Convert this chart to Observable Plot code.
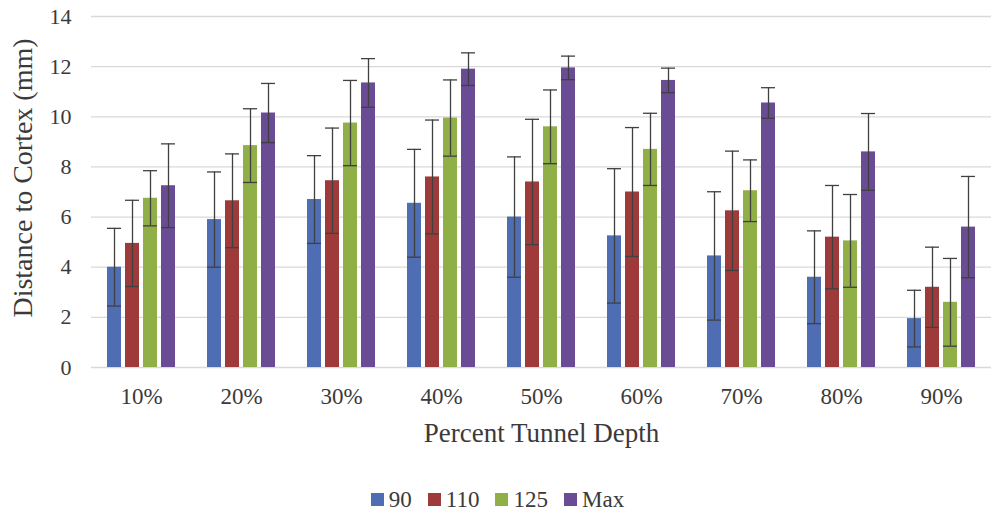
<!DOCTYPE html>
<html><head><meta charset="utf-8">
<script src="https://cdn.jsdelivr.net/npm/d3@7"></script>
<script src="https://cdn.jsdelivr.net/npm/@observablehq/plot@0.6"></script>
<style>
body{margin:0;background:#fff;font-family:"Liberation Serif","Times New Roman",serif;}
#chart{width:995px;height:475px;}
#legend{width:995px;height:39px;box-sizing:border-box;padding-top:10px;display:flex;align-items:center;justify-content:center;font-size:23px;color:#3a3a3a;}
.item{display:flex;align-items:center;margin:0 8px;}
.sw{width:13px;height:13px;margin-right:5px;display:inline-block;}
</style></head><body>
<div id="chart"></div>
<div id="legend"></div>
<script>
const categories = ["10%","20%","30%","40%","50%","60%","70%","80%","90%"];
const series = ["90","110","125","Max"];
const colors = ["#4E6DB3","#9E3B3A","#90AF47","#6A4C95"];
const mean90  = [4.0, 5.9, 6.7, 6.55, 6.0, 5.25, 4.45, 3.6, 1.95];
const mean110 = [4.95, 6.65, 7.45, 7.6, 7.4, 7.0, 6.25, 5.2, 3.2];
const mean125 = [6.75, 8.85, 9.75, 9.95, 9.6, 8.7, 7.05, 5.05, 2.6];
const meanMax = [7.25, 10.15, 11.35, 11.9, 11.95, 11.45, 10.55, 8.6, 5.6];
const err90  = [1.55, 1.9, 1.75, 2.15, 2.4, 2.68, 2.56, 1.85, 1.13];
const err110 = [1.72, 1.87, 2.1, 2.27, 2.5, 2.57, 2.38, 2.06, 1.6];
const err125 = [1.1, 1.47, 1.7, 1.52, 1.47, 1.44, 1.23, 1.85, 1.75];
const errMax = [1.67, 1.18, 0.97, 0.65, 0.47, 0.49, 0.61, 1.53, 2.02];
const yTicks = [0, 2, 4, 6, 8, 10, 12, 14];
const xTitle = "Percent Tunnel Depth";
const yTitle = "Distance to Cortex (mm)";

const meansBy = {"90": mean90, "110": mean110, "125": mean125, "Max": meanMax};
const errsBy = {"90": err90, "110": err110, "125": err125, "Max": errMax};
const rows = [];
categories.forEach((c, i) => {
  series.forEach(s => {
    const v = meansBy[s][i], e = errsBy[s][i];
    rows.push({cat: c, series: s, value: v, lo: v - e, hi: v + e});
  });
});

const ebar = {stroke: "#404040", strokeWidth: 1.3};
const plot = Plot.plot({
  width: 995, height: 475,
  marginTop: 16, marginBottom: 108, marginLeft: 90, marginRight: 3,
  style: {fontFamily: "'Liberation Serif','Times New Roman',serif", background: "#fff", color: "#3a3a3a", fontSize: "22px"},
  fx: {domain: categories, padding: 0, label: null},
  x: {domain: series, paddingInner: 0.24, paddingOuter: 0.84, axis: null},
  y: {domain: [0, 14], label: null},
  color: {domain: series, range: colors},
  marks: [
    Plot.gridY(yTicks, {stroke: "#d9d9d9", strokeOpacity: 1, strokeWidth: 1.3}),
    Plot.axisY(yTicks, {tickSize: 0, tickPadding: 20, fontSize: 22, label: null}),
    Plot.axisFx({anchor: "bottom", tickSize: 0, tickPadding: 20, fontSize: 23, label: null}),
    Plot.barY(rows, {fx: "cat", x: "series", y: "value", fill: "series"}),
    Plot.ruleX(rows, {fx: "cat", x: "series", y1: "lo", y2: "hi", ...ebar}),
    Plot.tickY(rows, {fx: "cat", x: "series", y: "hi", ...ebar}),
    Plot.tickY(rows, {fx: "cat", x: "series", y: "lo", ...ebar}),
    Plot.text([{f: categories[0], t: yTitle}], {fx: "f", text: "t", frameAnchor: "left", textAnchor: "middle", lineAnchor: "middle", dx: -68, dy: -14, rotate: -90, fontSize: 28, fill: "#3a3a3a"}),
    Plot.text([{f: categories[4], t: xTitle}], {fx: "f", text: "t", frameAnchor: "bottom", textAnchor: "middle", lineAnchor: "middle", dy: 66, fontSize: 27, fill: "#3a3a3a"})
  ]
});
document.getElementById("chart").appendChild(plot);

const leg = document.getElementById("legend");
series.forEach((s, i) => {
  const it = document.createElement("span");
  it.className = "item";
  const sw = document.createElement("span");
  sw.className = "sw";
  sw.style.background = colors[i];
  it.appendChild(sw);
  it.appendChild(document.createTextNode(s));
  leg.appendChild(it);
});
</script>
</body></html>
